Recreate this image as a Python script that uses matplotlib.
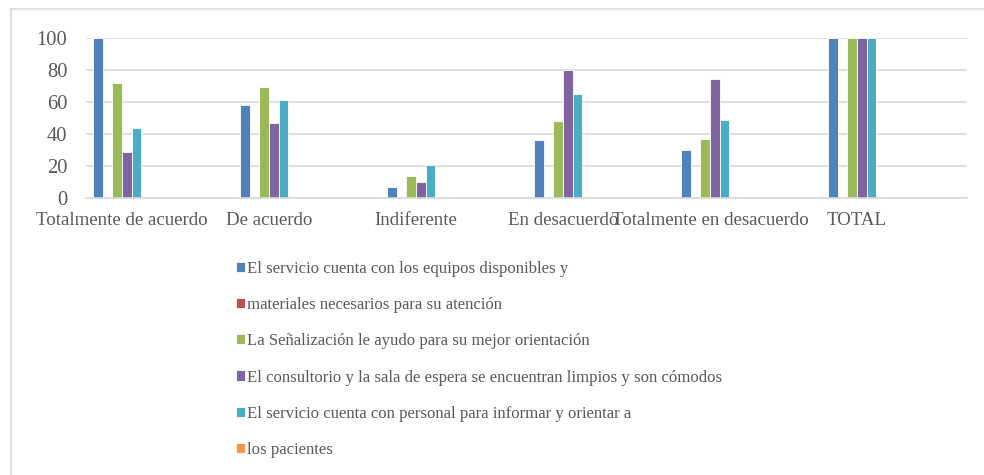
import matplotlib
matplotlib.use("Agg")
import matplotlib.pyplot as plt
import numpy as np

# Response categories on the x axis
categories = ["Totalmente de acuerdo", "De acuerdo", "Indiferente",
              "En desacuerdo", "Totalmente en desacuerdo", "TOTAL"]

# Survey item names (as they appear in the legend)
series_names = [
    "El servicio cuenta con los equipos disponibles y",
    "materiales necesarios para su atención",
    "La Señalización le ayudo para su mejor orientación",
    "El consultorio y la sala de espera se encuentran limpios y son cómodos",
    "El servicio cuenta con personal para informar y orientar a",
    "los pacientes",
]

# Values per series, one per category
equipos = [100, 58, 7, 36, 30, 100]
materiales = [0, 0, 0, 0, 0, 0]
senalizacion = [72, 69, 14, 48, 37, 100]
consultorio = [29, 47, 10, 80, 74, 100]
personal = [44, 61, 21, 65, 49, 100]
pacientes = [0, 0, 0, 0, 0, 0]

series_values = [equipos, materiales, senalizacion, consultorio, personal, pacientes]
colors = ["#4F81BD", "#C0504D", "#9BBB59", "#8064A2", "#4BACC6", "#F79646"]

y_ticks = [0, 20, 40, 60, 80, 100]

text_color = "#595959"
grid_color = "#D9D9D9"
serif = ["Liberation Serif", "DejaVu Serif"]

fig = plt.figure(figsize=(9.84, 4.75), dpi=100)
ax = fig.add_axes([86 / 984, 1 - 198.3 / 475, (967 - 86) / 984, (198.3 - 37.7) / 475])

x = np.arange(len(categories))
slot = 0.0653
handles = []
for j, (vals, col) in enumerate(zip(series_values, colors)):
    b = ax.bar(x + (j - 2.5) * slot, vals, width=slot, color=col,
               edgecolor="white", linewidth=0.6, zorder=2, label=series_names[j])
    handles.append(b)

ax.set_xlim(-0.245, 5.748)
ax.set_ylim(0, 100)
ax.set_yticks(y_ticks)
ax.set_xticks(x)
ax.set_xticklabels(categories)
ax.yaxis.grid(True, color=grid_color, linewidth=1.2, zorder=0)
ax.set_axisbelow(True)
for s in ["left", "right", "top"]:
    ax.spines[s].set_visible(False)
ax.spines["bottom"].set_color(grid_color)
ax.spines["bottom"].set_linewidth(1.2)
ax.tick_params(axis="both", length=0, colors=text_color)
ax.tick_params(axis="y", pad=13.5)
ax.tick_params(axis="x", pad=10)
for lab in ax.get_xticklabels():
    lab.set_fontfamily(serif)
    lab.set_fontsize(13.6)
    lab.set_color(text_color)
for lab in ax.get_yticklabels():
    lab.set_fontfamily(serif)
    lab.set_fontsize(14.8)
    lab.set_color(text_color)

leg = fig.legend(handles=handles, labels=series_names, loc="upper left",
                 bbox_to_anchor=(236 / 984, 1 - 261 / 475), frameon=False,
                 prop={"family": serif, "size": 12.1},
                 handlelength=0.55, handleheight=0.55, handletextpad=0.12,
                 labelspacing=1.2, borderaxespad=0, borderpad=0)
for t in leg.get_texts():
    t.set_color(text_color)

# Chart frame: top and left edges
fig.add_artist(plt.Line2D([10.7 / 984, 1], [1 - 8.5 / 475, 1 - 8.5 / 475],
                          transform=fig.transFigure, color="#D9D9D9", linewidth=1.2))
fig.add_artist(plt.Line2D([10.7 / 984, 10.7 / 984], [0, 1 - 8.5 / 475],
                          transform=fig.transFigure, color="#D9D9D9", linewidth=1.2))

fig.savefig("out.png", dpi=100, facecolor="white")
